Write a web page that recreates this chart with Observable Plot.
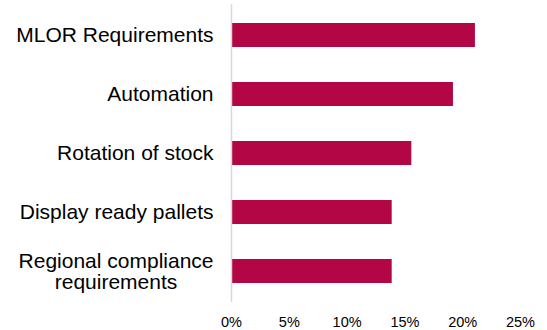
<!DOCTYPE html>
<html><head><meta charset="utf-8">
<script src="https://cdn.jsdelivr.net/npm/d3@7"></script>
<script src="https://cdn.jsdelivr.net/npm/@observablehq/plot@0.6"></script>
<style>body{margin:0;background:#fff} svg{display:block}</style>
</head><body><div id="chart"></div>
<script>
const categories = ["MLOR Requirements","Automation","Rotation of stock","Display ready pallets","Regional compliance\nrequirements"];
const values = [0.211,0.192,0.156,0.139,0.139];
const xTicks = [0,0.05,0.10,0.15,0.20,0.25];
const data = categories.map((c,i)=>({category:c, value:values[i]}));
const chart = Plot.plot({
  width:547, height:330, marginTop:4, marginBottom:28, marginLeft:231, marginRight:27,
  style:{fontFamily:"'Liberation Sans', Arial, sans-serif", background:"#fff", color:"#000"},
  x:{domain:[0,0.25]},
  y:{domain:categories, paddingInner:0.6, paddingOuter:0.3, axis:null},
  marks:[
    Plot.barX(data,{x:"value", y:"category", fill:"#b20645"}),
    Plot.ruleX([0],{stroke:"#d9d9d9", strokeWidth:1.5}),
    Plot.axisX({ticks:xTicks, tickFormat:d3.format(".0%"), tickSize:0, tickPadding:14, fontSize:14.5, label:null, fill:"#000"}),
    Plot.text(data,{x:()=>0, y:"category", text:"category", textAnchor:"end", dx:-18, fontSize:21, lineHeight:1.03, fill:"#000"})
  ]
});
document.getElementById("chart").appendChild(chart);
chart.querySelectorAll('g[aria-label="text"] text').forEach(t=>{
  if (t.querySelectorAll("tspan").length > 1) {
    const w = t.getBBox().width;
    t.setAttribute("text-anchor","middle");
    t.setAttribute("transform",(t.getAttribute("transform")||"") + ` translate(${-w/2},0)`);
  }
});
</script></body></html>
